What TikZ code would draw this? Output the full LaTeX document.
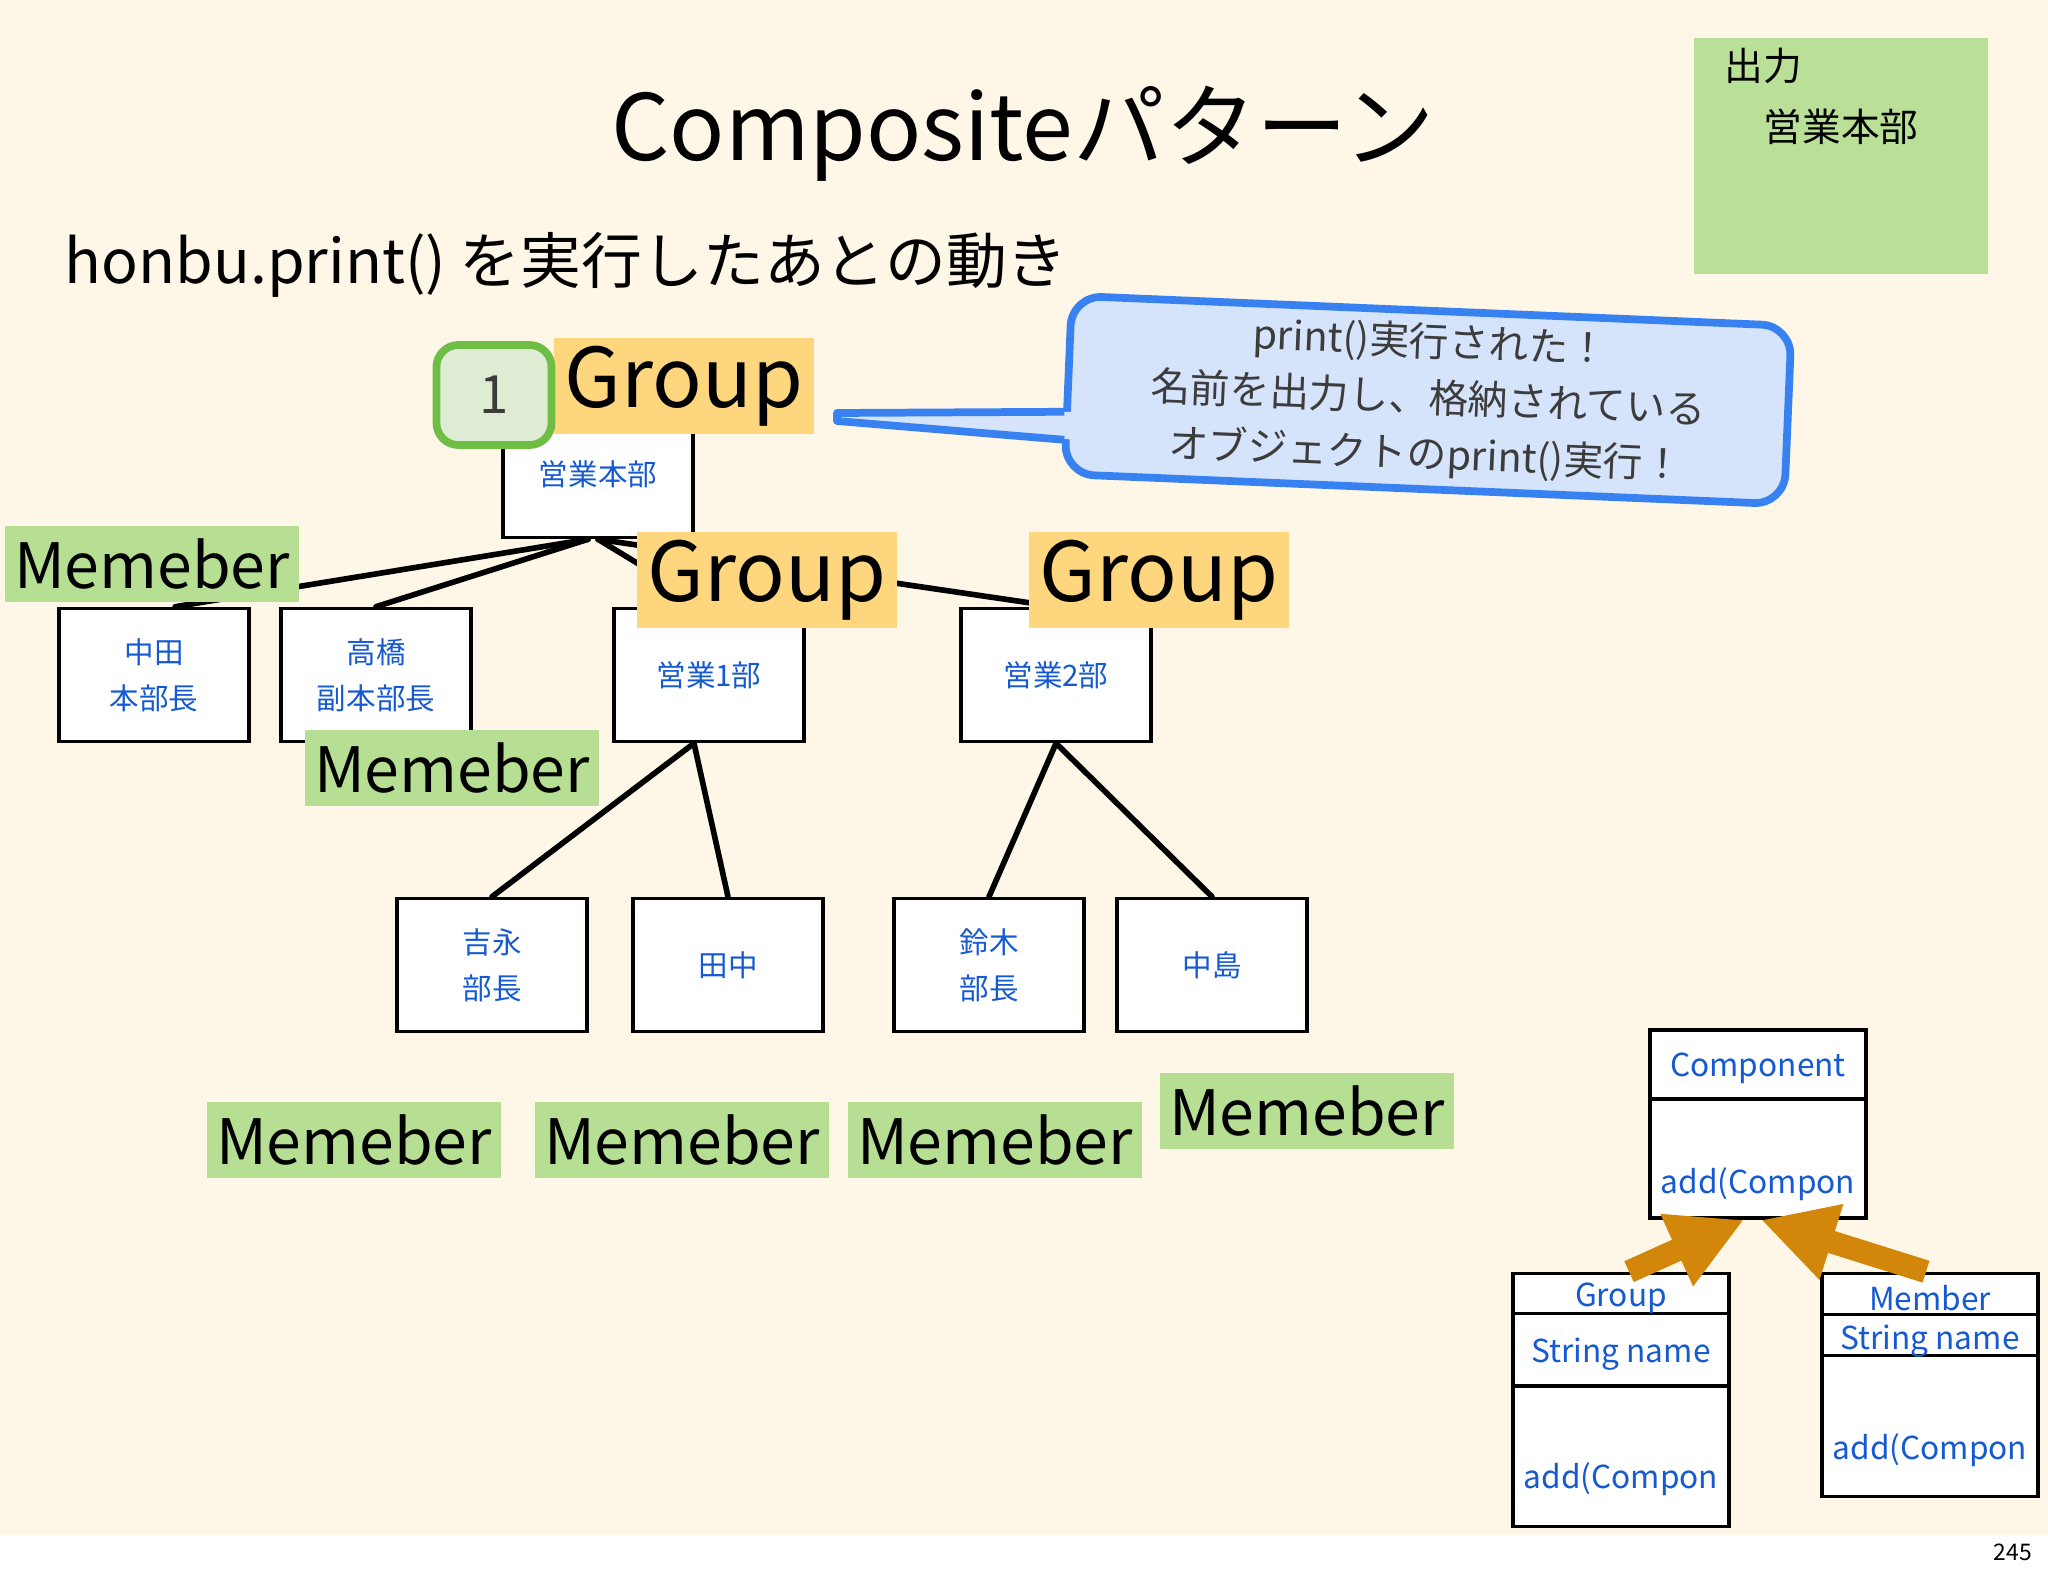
\documentclass[tikz,border=0pt]{standalone}
\usepackage{fontspec}
\setmainfont{Noto Sans CJK JP}
\usetikzlibrary{arrows.meta}
\definecolor{bgcream}{RGB}{254,246,230}
\definecolor{tagyellow}{RGB}{253,214,125}
\definecolor{taggreen}{RGB}{183,223,148}
\definecolor{outgreen}{RGB}{185,224,150}
\definecolor{txtblue}{RGB}{22,90,210}
\definecolor{badgegreen}{RGB}{110,190,70}
\definecolor{badgefill}{RGB}{221,236,210}
\definecolor{calloutblue}{RGB}{55,130,240}
\definecolor{calloutfill}{RGB}{213,228,250}
\definecolor{arroworange}{RGB}{210,135,10}
\definecolor{textgray}{RGB}{60,60,60}
\begin{document}
\begin{tikzpicture}[
	x=0.01cm, y=-0.01cm,
	box/.style={draw, line width=1pt, fill=white, minimum width=1.9cm, minimum height=1.33cm, align=center, text=txtblue, font=\fontsize{8.4}{13}\selectfont},
	grouptag/.style={fill=tagyellow, minimum width=2.59cm, minimum height=0.95cm, inner sep=0pt, font=\fontsize{23.4}{23.4}\selectfont},
	membertag/.style={fill=taggreen, minimum width=2.94cm, minimum height=0.76cm, inner sep=0pt, font=\fontsize{17.8}{17.8}\selectfont},
	twig/.style={line width=1.6pt, line cap=round},
	umlbox/.style={draw, line width=1pt, fill=white, minimum width=2.16cm, inner sep=0pt},
	umltext/.style={text=txtblue, inner sep=0pt, font=\fontsize{9}{9}\selectfont},
	inherit/.style={line width=6.5pt, arroworange, -{Triangle[length=21pt,width=21pt]}}
	]
	\useasboundingbox (0,0) rectangle (2048,1576);
	\fill[bgcream] (0,0) rectangle (2048,1535);
	\fill[white] (0,1535) rectangle (2048,1576);

	\node[font=\fontsize{26}{26}\selectfont] (title) at (1023,134) {Compositeパターン};
	\node[anchor=west, inner sep=0pt, font=\fontsize{17.3}{17.3}\selectfont] (subtitle) at (64,265) {honbu.print() を実行したあとの動き};

	% output panel
	\node[fill=outgreen, minimum width=2.94cm, minimum height=2.35cm] (output) at (1841,156) {};
	\node[anchor=west, inner sep=0pt, font=\fontsize{11}{11}\selectfont] (outhead) at (1724,66) {出力};
	\node[anchor=west, inner sep=0pt, font=\fontsize{11}{11}\selectfont] (outline) at (1763,127) {営業本部};

	% tree
	\node[box, minimum height=1.07cm, text depth=0.22cm] (root) at (598,484) {営業本部};
	\node[box] (nakata) at (154,675) {中田\\本部長};
	\node[box] (takahashi) at (376,675) {高橋\\副本部長};
	\node[box] (eigyo1) at (709,675) {営業1部};
	\node[box] (eigyo2) at (1056,675) {営業2部};
	\node[box] (yoshinaga) at (492,965) {吉永\\部長};
	\node[box] (tanaka) at (728,965) {田中};
	\node[box] (suzuki) at (989,965) {鈴木\\部長};
	\node[box] (nakajima) at (1212,965) {中島};

	\draw[twig] ([xshift=-0.1cm]root.south) -- ([xshift=6pt]nakata.north);
	\draw[twig] ([xshift=-0.1cm]root.south) -- (takahashi.north);
	\draw[twig] (root.south) -- (eigyo1.north);
	\draw[twig] (root.south) -- (eigyo2.north);
	\draw[twig] ([xshift=-0.15cm]eigyo1.south) -- (yoshinaga.north);
	\draw[twig] ([xshift=-0.15cm]eigyo1.south) -- (tanaka.north);
	\draw[twig] (eigyo2.south) -- (suzuki.north);
	\draw[twig] (eigyo2.south) -- (nakajima.north);

	\node[grouptag] (gtag0) at (684,386) {Group};
	\node[grouptag] (gtag1) at (767,580) {Group};
	\node[grouptag] (gtag2) at (1159,580) {Group};
	\node[membertag] (mtag0) at (152,564) {Memeber};
	\node[membertag] (mtag1) at (452,768) {Memeber};
	\node[membertag] (mtag2) at (354,1140) {Memeber};
	\node[membertag] (mtag3) at (682,1140) {Memeber};
	\node[membertag] (mtag4) at (995,1140) {Memeber};
	\node[membertag] (mtag5) at (1307,1111) {Memeber};

	\node[draw=badgegreen, fill=badgefill, line width=2.2pt, rounded corners=0.22cm, minimum width=1.15cm, minimum height=1cm, text=textgray, font=\fontsize{15}{15}\selectfont] (badge) at (494,395) {1};

	% speech bubble
	\node[draw=calloutblue, fill=calloutfill, line width=2.2pt, rounded corners=0.3cm, rotate=-2.4, minimum width=7.2cm, minimum height=1.75cm, align=center, text=textgray, font=\fontsize{11.3}{16}\selectfont] (callout) at (1428,400) {print()実行された！\\名前を出力し、格納されている\\オブジェクトのprint()実行！};
	\coordinate (tailtip) at (837,417);
	\fill[calloutfill] ([xshift=3pt,yshift=-0.27cm]callout.west) -- ([yshift=0.04cm]tailtip) -- ([yshift=-0.04cm]tailtip) -- ([xshift=3pt,yshift=-0.55cm]callout.west) -- cycle;
	\draw[calloutblue, line width=2.2pt, line join=round] ([yshift=-0.27cm]callout.west) -- ([yshift=0.04cm]tailtip) -- ([yshift=-0.04cm]tailtip) -- ([yshift=-0.55cm]callout.west);

	% class diagram
	\node[umlbox, minimum height=1.88cm] (comp) at (1758,1124) {};
	\draw[line width=1pt] ([yshift=-0.71cm]comp.north west) -- ([yshift=-0.71cm]comp.north east);
	\node[umltext] (compname) at (1758,1068) {Component};
	\node[umltext] (compop) at (1758,1184) {add(Compon};

	\node[umlbox, minimum height=2.53cm] (grp) at (1621,1400) {};
	\draw[line width=1pt] ([yshift=-0.42cm]grp.north west) -- ([yshift=-0.42cm]grp.north east);
	\draw[line width=1pt] ([yshift=-1.14cm]grp.north west) -- ([yshift=-1.14cm]grp.north east);
	\node[umltext] (grpname) at (1621,1298) {Group};
	\node[umltext] (grpattr) at (1621,1354) {String name};
	\node[umltext] (grpop) at (1621,1479) {add(Compon};

	\node[umlbox, minimum height=2.23cm] (mem) at (1930,1385) {};
	\draw[line width=1pt] ([yshift=-0.43cm]mem.north west) -- ([yshift=-0.43cm]mem.north east);
	\draw[line width=1pt] ([yshift=-0.84cm]mem.north west) -- ([yshift=-0.84cm]mem.north east);
	\node[umltext] (memname) at (1930,1298) {Member};
	\node[umltext] (memattr) at (1930,1341) {String name};
	\node[umltext] (memop) at (1930,1450) {add(Compon};

	\draw[inherit] ([xshift=0.08cm]grp.north) -- ([xshift=-0.14cm]comp.south);
	\draw[inherit] ([xshift=-0.04cm]mem.north) -- ([xshift=0.03cm]comp.south);

	\node[font=\fontsize{6.5}{6.5}\selectfont] (pageno) at (2013,1552) {245};
\end{tikzpicture}
\end{document}
